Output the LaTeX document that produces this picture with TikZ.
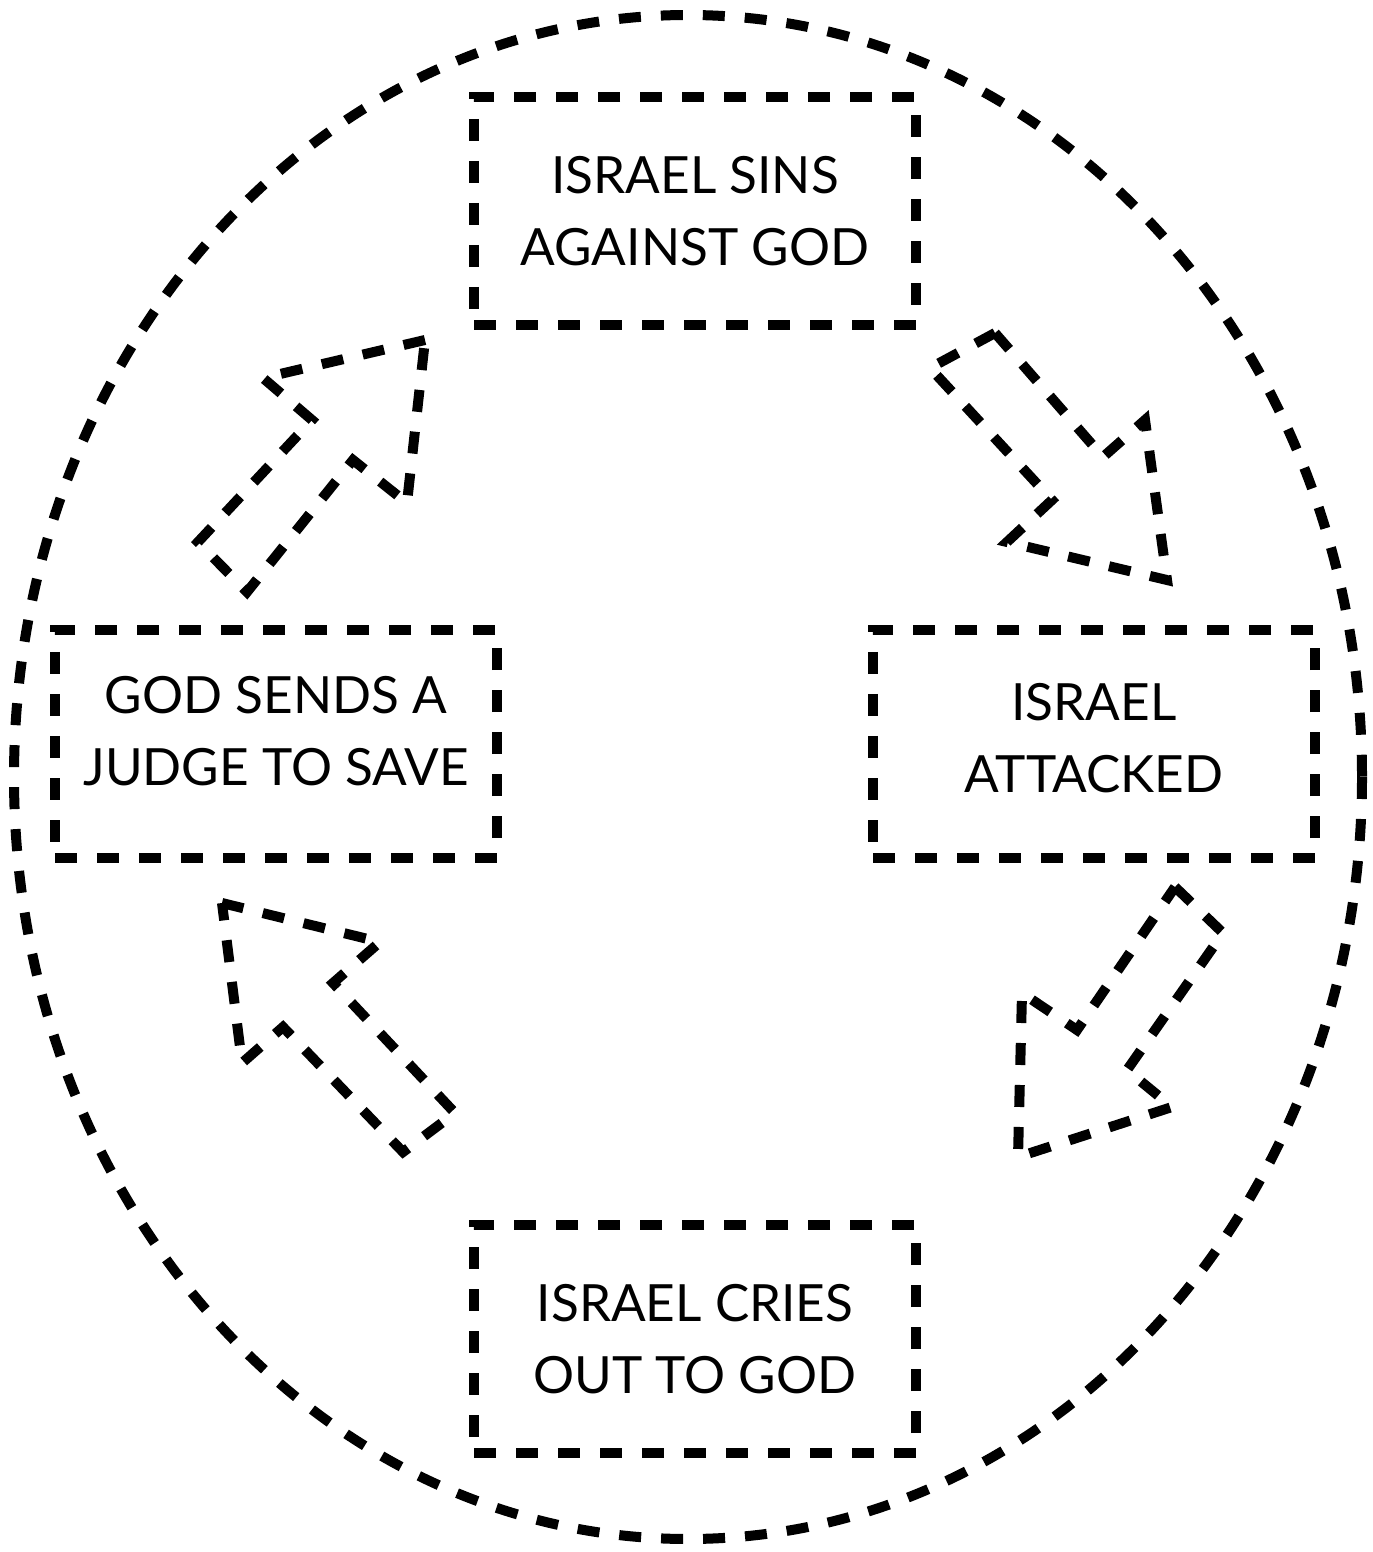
\documentclass[tikz,border=0pt]{standalone}
\usepackage{fontspec}
\setmainfont{Lato}
\usetikzlibrary{positioning}

\tikzset{
  dashline/.style={line width=1mm, dash pattern=on 2.2mm off 2mm},
  stagebox/.style={dashline, draw, rectangle, inner sep=0pt,
    minimum width=44.2mm, minimum height=22.8mm, align=center,
    font=\fontsize{14.6}{20.6}\selectfont},
}

\begin{document}
\begin{tikzpicture}[x=0.1mm, y=-0.1mm, line join=miter]
\useasboundingbox (0,0) rectangle (1372,1552);
% outer cycle:
\draw[dashline] (688,777) ellipse [x radius=674, y radius=762];
% stages:
\node (sins) at (695,211) [stagebox] {ISRAEL SINS\\AGAINST GOD};
\node (attacked) at (1094,744) [stagebox, text depth=1.2mm] {ISRAEL\\ATTACKED};
\node (cries) at (695,1339) [stagebox] {ISRAEL CRIES\\OUT TO GOD};
\node (judge) at (276,744) [stagebox, text depth=2.6mm] {GOD SENDS A\\JUDGE TO SAVE};
% block arrows:
\draw[dashline] (425,340) -- (263,378) -- (312,420) -- (198,542) -- (247,592) -- (353,460) -- (407,503) -- cycle;
\draw[dashline] (995,333) -- (930,368) -- (1052,500) -- (1007,542) -- (1167,580) -- (1145,420) -- (1103,457) -- cycle;
\draw[dashline] (1175,887) -- (1223,933) -- (1127,1070) -- (1172,1107) -- (1018,1157) -- (1022,993) -- (1077,1030) -- cycle;
\draw[dashline] (222,903) -- (380,942) -- (333,983) -- (455,1113) -- (403,1152) -- (283,1027) -- (242,1063) -- cycle;
\end{tikzpicture}
\end{document}
